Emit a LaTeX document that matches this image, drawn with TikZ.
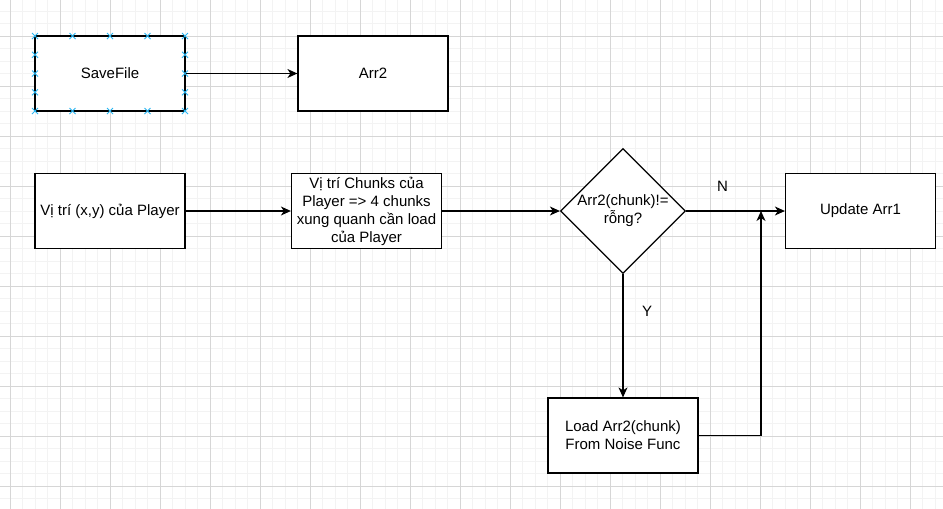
\documentclass[tikz,border=0pt]{standalone}
\usepackage{fontspec}
\setmainfont{Liberation Sans}
\usetikzlibrary{shapes.geometric,arrows.meta}
\definecolor{gridmajor}{RGB}{214,214,214}
\definecolor{gridminor}{RGB}{243,243,243}
\definecolor{handle}{RGB}{41,182,242}
\tikzset{
  box/.style={draw=black, line width=1.2pt, fill=white, rectangle, minimum width=150pt, minimum height=75pt, inner sep=0pt, align=center, font=\fontsize{15}{18}\selectfont},
  decbox/.style={draw=black, line width=1.2pt, fill=white, diamond, minimum width=125pt, minimum height=125pt, inner sep=0pt},
  txt/.style={inner sep=0pt, align=center, font=\fontsize{15}{18}\selectfont},
  conn/.style={line width=1.2pt, -{Stealth[length=10pt,width=9pt,inset=3pt]}},
  minorline/.style={gridminor, line width=0.8pt},
  majorline/.style={gridmajor, line width=0.9pt},
  handlemark/.style={handle, line width=1pt}
}
\begin{document}
\begin{tikzpicture}[x=1pt,y=-1pt]
\useasboundingbox (0,0) rectangle (943,509);
\fill[white] (0,0) rectangle (943,509);
\begin{scope}
\clip (0,0) rectangle (943,509);
\foreach \i in {0,...,76} { \draw[minorline] ({-2.2+12.5*\i},0) -- ({-2.2+12.5*\i},509); }
\foreach \j in {0,...,41} { \draw[minorline] (0,{-1.5+12.5*\j}) -- (943,{-1.5+12.5*\j}); }
\foreach \i in {0,...,18} { \draw[majorline] ({10.3+50*\i},0) -- ({10.3+50*\i},509); }
\foreach \j in {0,...,9} { \draw[majorline] (0,{36+50*\j}) -- (943,{36+50*\j}); }
\end{scope}

\node[box] (save) at (110,73.5) {SaveFile};
\node[box] (arr2) at (373,73.5) {Arr2};
\node[box] (vitri) at (110,211) {Vị trí (x,y) của Player};
\node[box] (chunks) at (366.5,211) {Vị trí Chunks của\\Player => 4 chunks\\xung quanh cần load\\của Player};
\node[decbox] (dec) at (623,211) {};
\node[txt] (dectext) at (623,211) {Arr2(chunk)!=\\rỗng?};
\node[box] (update) at (860.5,211) {Update Arr1};
\node[box] (load) at (623,435.5) {Load Arr2(chunk)\\From Noise Func};
\coordinate (join) at (761,211);

% selection handles on SaveFile
\foreach \px/\py in {35/36,72.5/36,110/36,147.5/36,185/36,35/111,72.5/111,110/111,147.5/111,185/111,35/54.75,35/73.5,35/92.25,185/54.75,185/73.5,185/92.25} {
  \draw[handlemark] (\px-3,\py-3) -- (\px+3,\py+3);
  \draw[handlemark] (\px-3,\py+3) -- (\px+3,\py-3);
}

\draw[conn] (save.east) -- (arr2.west);
\draw[conn] (vitri.east) -- (chunks.west);
\draw[conn] (chunks.east) -- (dec.west);
\draw[conn] (dec.east) -- (update.west);
\draw[conn] (dec.south) -- (load.north);
\draw[conn] (load.east) -| (join);
\node[txt] (nlabel) at (722.5,186) {N};
\node[txt] (ylabel) at (647,311) {Y};
\end{tikzpicture}
\end{document}
